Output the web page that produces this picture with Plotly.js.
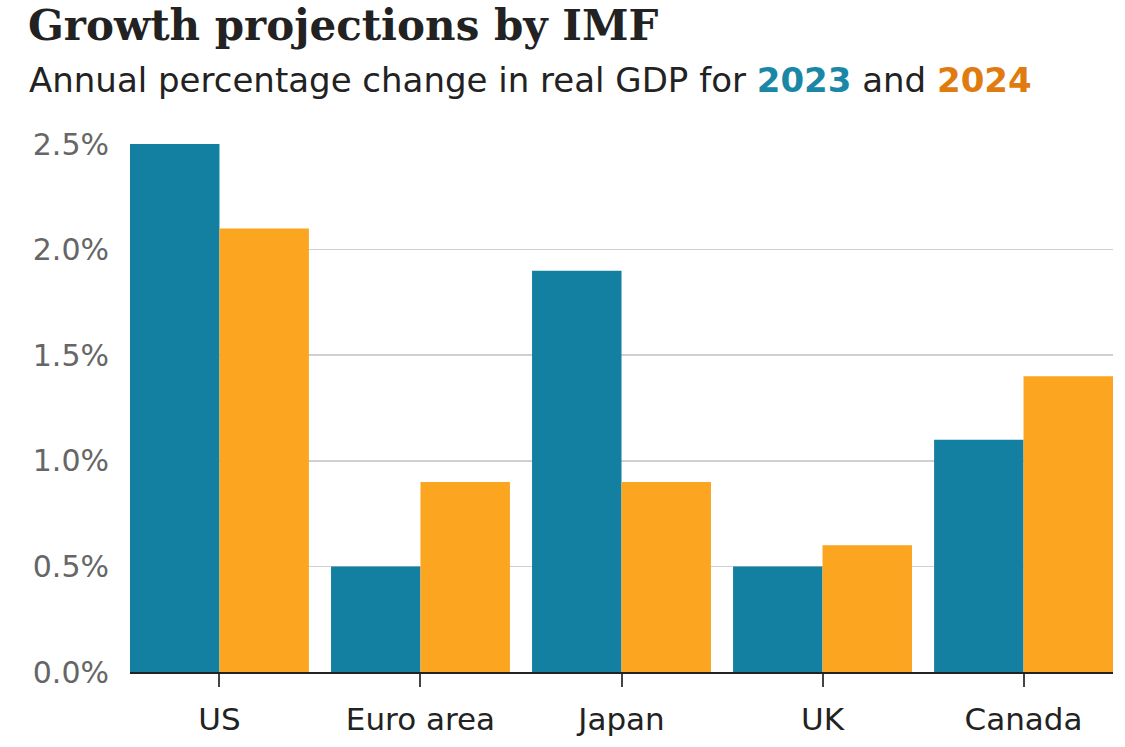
<!DOCTYPE html>
<html>
<head>
<meta charset="utf-8">
<script src="https://cdn.plot.ly/plotly-3.0.1.min.js"></script>
<style>html,body{margin:0;padding:0;background:#fff;}#chart{width:1125px;height:747px;}</style>
</head>
<body>
<div id="chart"></div>
<script>
const categories = ["US", "Euro area", "Japan", "UK", "Canada"];
const growth2023 = [2.5, 0.5, 1.9, 0.5, 1.1];
const growth2024 = [2.1, 0.9, 0.9, 0.6, 1.4];
const yTickVals = [0, 0.5, 1.0, 1.5, 2.0, 2.5];
const yTickText = ["0.0%", "0.5%", "1.0%", "1.5%", "2.0%", "2.5%"];

const traces = [
  {type: "bar", name: "2023", x: categories, y: growth2023, marker: {color: "#1380A1", line: {width: 0}}},
  {type: "bar", name: "2024", x: categories, y: growth2024, marker: {color: "#FBA520", line: {width: 0}}}
];

const layout = {
  width: 1125, height: 747,
  margin: {l: 130, r: 12, t: 144, b: 75},
  paper_bgcolor: "#fff", plot_bgcolor: "#fff",
  showlegend: false,
  barmode: "group", bargap: 0.11, bargroupgap: 0,
  font: {family: "DejaVu Sans, sans-serif", color: "#222"},
  title: {
    text: "Growth projections by IMF",
    font: {family: "DejaVu Serif, serif", size: 42, color: "#222", weight: "bold"},
    x: 28/1125, xref: "container", xanchor: "left",
    y: 1 - 25/747, yref: "container", yanchor: "middle", pad: {t: 0, b: 0, l: 0, r: 0}
  },
  annotations: [{
    text: "Annual percentage change in real GDP for <b><span style='color:#1a87a6'>2023</span></b> and <b><span style='color:#e07b10'>2024</span></b>",
    xref: "paper", yref: "paper", x: -103/983, y: 1 + (144-80)/528,
    xanchor: "left", yanchor: "middle", showarrow: false,
    font: {family: "DejaVu Sans, sans-serif", size: 34, color: "#222"}
  }],
  xaxis: {
    type: "category", range: [-0.445, 4.445],
    showline: true, linecolor: "#222", linewidth: 2,
    ticks: "outside", ticklen: 13, tickwidth: 2, tickcolor: "#444",
    ticklabelstandoff: 6,
    tickfont: {family: "DejaVu Sans, sans-serif", size: 31, color: "#222"},
    showgrid: false, zeroline: false, fixedrange: true
  },
  yaxis: {
    range: [0, 2.5], tickvals: yTickVals, ticktext: yTickText,
    showgrid: true, gridcolor: "#d0d0d0", gridwidth: 1.5,
    zeroline: false, showline: false, ticks: "",
    ticklabelstandoff: 20,
    tickfont: {family: "DejaVu Sans, sans-serif", size: 30, color: "#666"},
    fixedrange: true
  }
};

Plotly.newPlot("chart", traces, layout, {displayModeBar: false, staticPlot: true});
</script>
</body>
</html>
